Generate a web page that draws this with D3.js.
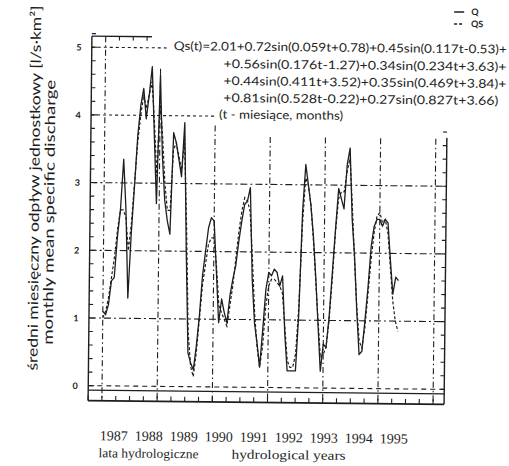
<!DOCTYPE html>
<html>
<head>
<meta charset="utf-8">
<script src="https://cdn.jsdelivr.net/npm/d3@7"></script>
<style>
  html, body { margin: 0; padding: 0; background: #fff; }
  svg { display: block; }
  text { fill: #1e1e1e; }
</style>
</head>
<body>
<svg id="chart" width="509" height="466"></svg>
<script>
// Monthly mean specific discharge, hydrological years 1987-1995 (t = month index)
const years = ["1987", "1988", "1989", "1990", "1991", "1992", "1993", "1994", "1995"];
const yTickValues = [0, 1, 2, 3, 4, 5];
const yearLines = [0, 20, 40, 60, 80, 100, 120];

// observed discharge Q [l/s·km²]
const q = [
  1.1, 1.05, 1.2, 1.55, 1.6, 2.2, 2.6, 3.35, 2.6, 1.3,
  2.25, 2.95, 3.7, 4.15, 4.4, 3.95, 4.3, 4.72, 3.7, 2.7,
  4.6, 3.4, 2.75, 2.45, 2.25, 3.75, 3.6, 3.35, 3.1, 3.9,
  2.0, 0.5, 0.35, 0.25, 0.6, 1.05, 1.65, 2.0, 2.35, 2.5,
  2.45, 1.7, 0.95, 1.3, 1.1, 0.95, 1.35, 1.6, 1.8, 2.15,
  2.45, 2.7, 2.75, 2.95, 1.6, 0.95, 0.65, 0.3, 0.85, 1.45,
  1.7, 1.65, 1.75, 1.7, 1.5, 1.65, 0.8, 0.25, 0.25, 0.25,
  0.25, 1.1, 2.6, 3.3, 3.0, 2.7, 2.25, 1.65, 0.95, 0.25,
  0.65, 0.6, 1.05, 1.7, 2.35, 2.95, 2.8, 2.65, 3.3, 3.55,
  2.5, 1.95, 1.15, 0.5, 0.55, 1.0, 1.5, 2.1, 2.4, 2.5,
  2.5, 2.4, 2.5, 2.45, 1.9, 1.4, 1.65, 1.6
];

// harmonic model QS [l/s·km²]
const qs = [
  1.0, 1.1, 1.3, 1.6, 1.9, 2.3, 2.6, 2.6, 2.5, 2.0,
  2.4, 3.0, 3.6, 4.0, 4.3, 4.1, 4.3, 4.5, 3.9, 3.1,
  4.2, 3.7, 3.0, 2.6, 2.6, 3.5, 3.6, 3.4, 3.2, 3.6,
  2.4, 0.8, 0.3, 0.15, 0.5, 1.0, 1.5, 1.8, 2.1, 2.2,
  2.2, 1.8, 1.2, 1.1, 1.0, 0.9, 1.2, 1.5, 1.9, 2.3,
  2.6, 2.8, 2.75, 2.6, 1.9, 1.1, 0.6, 0.3, 0.6, 1.2,
  1.5, 1.6, 1.6, 1.55, 1.5, 1.4, 0.9, 0.4, 0.3, 0.3,
  0.5, 1.2, 2.4, 3.1, 3.0, 2.7, 2.2, 1.6, 1.0, 0.45,
  0.5, 0.6, 1.0, 1.6, 2.3, 2.8, 2.9, 2.9, 3.2, 3.4,
  2.7, 1.9, 1.2, 0.7, 0.6, 0.9, 1.4, 1.9, 2.3, 2.55,
  2.6, 2.45, 2.5, 2.3, 1.8, 1.3, 1.0, 0.85
];

const formulaLines = [
  "Qs(t)=2.01+0.72sin(0.059t+0.78)+0.45sin(0.117t-0.53)+",
  "+0.56sin(0.176t-1.27)+0.34sin(0.234t+3.63)+",
  "+0.44sin(0.411t+3.52)+0.35sin(0.469t+3.84)+",
  "+0.81sin(0.528t-0.22)+0.27sin(0.827t+3.66)",
  "(t - miesiące, months)"
];

const svg = d3.select("#chart");
const ink = "#1e1e1e";
const sans = "Lato, 'Open Sans', sans-serif";
const serif = "'Liberation Serif', 'DejaVu Serif', serif";

const x = d3.scaleLinear().domain([-5, 124]).range([90, 446]);
const y = d3.scaleLinear().domain([0, 5]).range([387.5, 49]);

// the whole sheet sits slightly askew
const g = svg.append("g").attr("transform", "rotate(0.6,268,220)");

const left = x(-5), right = x(124);
const frameTop = 38, stripTop = 392, stripBottom = 402.5, rightTop = 136;

// horizontal reference lines
yTickValues.forEach(v => {
  let x2 = right, dash = "7,3,2,3";
  if (v === 0) dash = "5,4";
  if (v === 4) { x2 = 214; dash = "3,3"; }
  if (v === 5) { x2 = 168; dash = "3,3"; }
  g.append("line")
    .attr("x1", left).attr("x2", x2)
    .attr("y1", y(v)).attr("y2", y(v))
    .attr("stroke", ink).attr("stroke-width", 1.1)
    .attr("stroke-dasharray", dash);
});

// year separator lines
yearLines.forEach(t => {
  let top = 137;
  if (t === 0) top = frameTop;
  if (t === 20) top = 70;
  if (t === 40) top = 126;
  g.append("line")
    .attr("x1", x(t)).attr("x2", x(t))
    .attr("y1", top).attr("y2", stripBottom)
    .attr("stroke", ink).attr("stroke-width", 1.1)
    .attr("stroke-dasharray", "6,3,1.5,3");
});

// frame
const frame = g.append("g").attr("stroke", ink).attr("stroke-width", 1.4).attr("fill", "none");
frame.append("line").attr("x1", left).attr("x2", left).attr("y1", frameTop).attr("y2", stripBottom);
frame.append("line").attr("x1", left).attr("x2", 150).attr("y1", frameTop).attr("y2", frameTop);
frame.append("line").attr("x1", right).attr("x2", right).attr("y1", rightTop).attr("y2", stripBottom);
frame.append("line").attr("x1", left).attr("x2", right).attr("y1", stripTop).attr("y2", stripTop);
frame.append("line").attr("x1", left).attr("x2", right).attr("y1", stripBottom).attr("y2", stripBottom).attr("stroke-width", 1.8);

// ticks
const tickG = g.append("g").attr("stroke", ink).attr("stroke-width", 1.1);
d3.range(0, 5.21, 0.2).forEach(v => {
  const major = Math.abs(v - Math.round(v)) < 1e-6;
  tickG.append("line").attr("x1", left).attr("x2", left + (major ? 6 : 4))
    .attr("y1", y(v)).attr("y2", y(v));
});
d3.range(0, 3.81, 0.2).forEach(v => {
  tickG.append("line").attr("x1", right).attr("x2", right - 4)
    .attr("y1", y(v)).attr("y2", y(v));
});
d3.range(-5, 121, 5).forEach(t => {
  tickG.append("line").attr("x1", x(t)).attr("x2", x(t))
    .attr("y1", stripBottom).attr("y2", stripBottom - 5);
});
[5, 10, 15].forEach(t => {
  tickG.append("line").attr("x1", x(t)).attr("x2", x(t))
    .attr("y1", frameTop).attr("y2", frameTop + 4);
});

// y tick labels
g.selectAll(".ylab").data(yTickValues).join("text")
  .attr("x", 77).attr("y", d => y(d) + 3.5)
  .attr("text-anchor", "middle")
  .attr("font-family", sans).attr("font-size", 9).attr("font-weight", 700)
  .text(d => d);

// series
const line = d3.line().x((d, i) => x(i)).y(d => y(d));
g.append("path").datum(qs).attr("d", line)
  .attr("fill", "none").attr("stroke", ink).attr("stroke-width", 1.2)
  .attr("stroke-dasharray", "3,2");
g.append("path").datum(q).attr("d", line)
  .attr("fill", "none").attr("stroke", ink).attr("stroke-width", 1.3)
  .attr("stroke-linejoin", "round");

// model formula
const fPos = [[172, 51, 333], [222, 68.5, 283], [222, 85.5, 283], [222, 102.5, 275], [218, 119, 124]];
formulaLines.forEach((s, i) => {
  g.append("text")
    .attr("x", fPos[i][0]).attr("y", fPos[i][1])
    .attr("font-family", sans).attr("font-size", 12)
    .attr("textLength", fPos[i][2]).attr("lengthAdjust", "spacingAndGlyphs")
    .text(s);
});

// legend
const lg = g.append("g").attr("transform", "translate(452,0)");
lg.append("line").attr("x1", 0).attr("x2", 10).attr("y1", 10).attr("y2", 10)
  .attr("stroke", ink).attr("stroke-width", 1.6);
lg.append("text").attr("x", 17).attr("y", 13).attr("font-family", sans)
  .attr("font-size", 9).attr("font-weight", 700).text("Q");
lg.append("line").attr("x1", 0).attr("x2", 10).attr("y1", 22).attr("y2", 22)
  .attr("stroke", ink).attr("stroke-width", 1.4).attr("stroke-dasharray", "3,2");
lg.append("text").attr("x", 17).attr("y", 25).attr("font-family", sans)
  .attr("font-size", 9).attr("font-weight", 700).text("QS");

// x axis labels
const yearX = d3.scalePoint().domain(years).range([116, 396]);
g.selectAll(".year").data(years).join("text")
  .attr("x", d => yearX(d)).attr("y", 442)
  .attr("text-anchor", "middle")
  .attr("font-family", serif).attr("font-size", 14)
  .text(d => d);
g.append("text").attr("x", 101).attr("y", 459)
  .attr("font-family", serif).attr("font-size", 13)
  .attr("textLength", 100).attr("lengthAdjust", "spacingAndGlyphs")
  .text("lata hydrologiczne");
g.append("text").attr("x", 234).attr("y", 459)
  .attr("font-family", serif).attr("font-size", 13)
  .attr("textLength", 114).attr("lengthAdjust", "spacingAndGlyphs")
  .text("hydrological years");

// y axis title
g.append("text")
  .attr("transform", "translate(39,190.5) rotate(-90)")
  .attr("text-anchor", "middle")
  .attr("font-family", sans).attr("font-size", 14)
  .attr("textLength", 365).attr("lengthAdjust", "spacingAndGlyphs")
  .text("średni miesięczny odpływ jednostkowy [l/s·km²]");
g.append("text")
  .attr("transform", "translate(54,214.5) rotate(-90)")
  .attr("text-anchor", "middle")
  .attr("font-family", sans).attr("font-size", 14)
  .attr("textLength", 265).attr("lengthAdjust", "spacingAndGlyphs")
  .text("monthly mean specific discharge");
</script>
</body>
</html>
